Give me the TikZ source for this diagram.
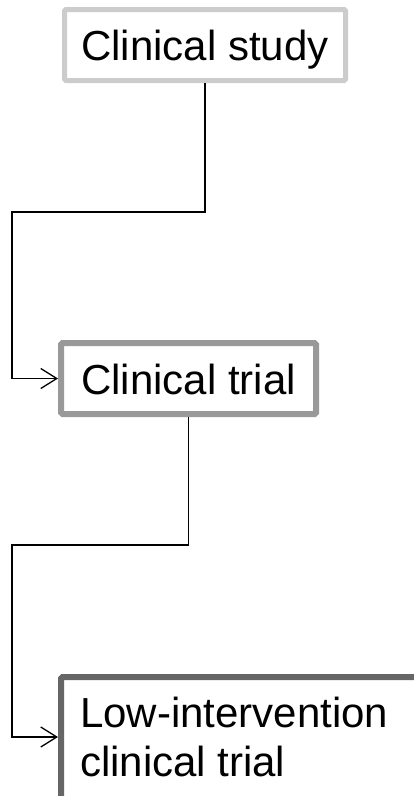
\documentclass[tikz,border=0pt]{standalone}
\usepackage{fontspec}
\setmainfont{Liberation Sans}
\usetikzlibrary{arrows.meta}
\definecolor{lightgrey}{HTML}{CCCCCC}
\definecolor{midgrey}{HTML}{999999}
\definecolor{darkgrey}{HTML}{666666}
\tikzset{
	>={Straight Barb[length=16pt,width=20pt]},
	stage/.style={
			draw, fill=white, rounded corners=1.5pt, inner sep=0pt,
			font=\fontsize{42}{49}\selectfont
		},
	link/.style={->, line width=1.3pt, black}
}

\begin{document}
\begin{tikzpicture}[x=1pt, y=-1pt]
		\useasboundingbox (0,0) rectangle (414,796);
		\clip (0,0) rectangle (414,796);
		\node[stage, draw=lightgrey, line width=5pt, minimum width=281pt, minimum height=71pt, text height=40pt, text depth=9pt] (study) at (205,45) {Clinical study};
		\node[stage, draw=midgrey, line width=6pt, minimum width=255pt, minimum height=71pt, text height=40pt, text depth=9pt] (trial) at (188.5,378.5) {Clinical trial};
		\node[stage, draw=darkgrey, line width=6pt, anchor=north west, inner xsep=19pt, inner ysep=20pt] (lowint) at (58,674)
			{\parbox[t][130pt][t]{360pt}{\raggedright Low-intervention\\clinical trial}};
		\coordinate (bendA) at (12,212);
		\coordinate (bendB) at (12,545);
		\draw[link] (study.south) |- (bendA) |- (trial.west);
		\draw[link] (trial.south) |- (bendB) |- ([yshift=-63pt]lowint.north west);
	\end{tikzpicture}
\end{document}
